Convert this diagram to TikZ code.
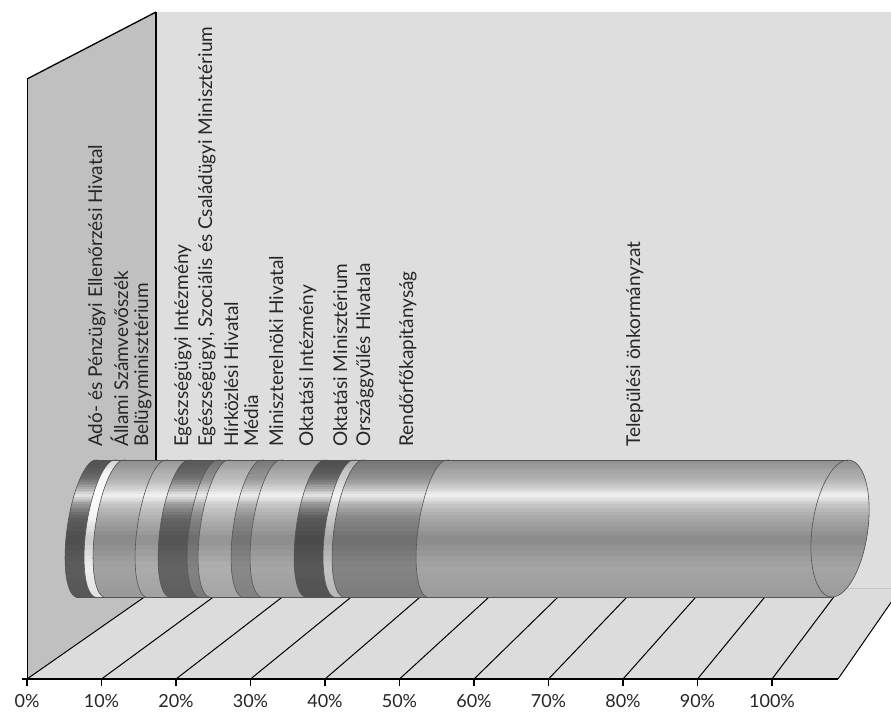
\documentclass[tikz,border=0pt]{standalone}
\usepackage{fontspec}
\setmainfont{Lato}
\definecolor{backwall}{HTML}{DEDEDE}
\definecolor{floorc}{HTML}{DCDCDC}
\definecolor{leftwall}{HTML}{C0C0C0}
\definecolor{s1}{HTML}{5E5E5E}
\definecolor{s2}{HTML}{F4F4F4}
\definecolor{s3}{HTML}{A6A6A6}
\definecolor{s4}{HTML}{B0B0B0}
\definecolor{s5}{HTML}{666666}
\definecolor{s6}{HTML}{858585}
\definecolor{s7}{HTML}{B3B3B3}
\definecolor{s8}{HTML}{8C8C8C}
\definecolor{s9}{HTML}{A9A9A9}
\definecolor{s10}{HTML}{5A5A5A}
\definecolor{s11}{HTML}{C8C8C8}
\definecolor{s12}{HTML}{878787}
\definecolor{s13}{HTML}{A8A8A8}
\def\cy{528.5}\def\uh{68.5}\def\us{11}\def\vw{19}\def\vh{6}\def\kk{0.5523}
\def\ytop{460}\def\ybot{597}
% horizontal bands that imitate the cylinder's shading, in colour "base"
\newcommand\cylfill[2]{%
  \foreach \fa/\fb/\va/\vb in {0/.04/-14/-10,.04/.13/-10/8,.13/.2/8/42,.2/.26/42/86,
      .26/.32/86/36,.32/.42/36/0,.42/.58/0/-18,.58/.78/-18/-2,.78/1/-2/-8}{%
    \foreach \k in {0,...,4}{%
      \pgfmathsetmacro\ya{460+137*(\fa+(\fb-\fa)*\k/5)}%
      \pgfmathsetmacro\yb{460+137*(\fa+(\fb-\fa)*(\k+1)/5)+0.7}%
      \pgfmathsetmacro\vv{\va+(\vb-\va)*(\k+0.5)/5}%
      \ifdim\vv pt<0pt
        \pgfmathsetmacro\mm{100+\vv}\colorlet{stripc}{base!\mm!black}%
      \else
        \pgfmathsetmacro\mm{100-\vv}\colorlet{stripc}{base!\mm!white}%
      \fi
      \fill[stripc] (#1,\ya) rectangle (#2,\yb);
    }}}
\newcommand\cylseg[3]{%
  \colorlet{base}{#3}%
  \begin{scope}
  \clip (#1+\us,\ytop) -- (#2+\us,\ytop)
    .. controls (#2+\us-\kk*\vw,\ytop-\kk*\vh) and (#2-\vw+\kk*\us,\cy-\vh-\kk*\uh) .. (#2-\vw,\cy-\vh)
    .. controls (#2-\vw-\kk*\us,\cy-\vh+\kk*\uh) and (#2-\us-\kk*\vw,\ybot-\kk*\vh) .. (#2-\us,\ybot)
    -- (#1-\us,\ybot)
    .. controls (#1-\us-\kk*\vw,\ybot-\kk*\vh) and (#1-\vw-\kk*\us,\cy-\vh+\kk*\uh) .. (#1-\vw,\cy-\vh)
    .. controls (#1-\vw+\kk*\us,\cy-\vh-\kk*\uh) and (#1+\us-\kk*\vw,\ytop-\kk*\vh) .. (#1+\us,\ytop)
    -- cycle;
  \cylfill{#1-40}{#2+40}
  \end{scope}}
\newcommand\bnd[1]{%
  \draw[edge] (#1+\us,\ytop)
    .. controls (#1+\us-\kk*\vw,\ytop-\kk*\vh) and (#1-\vw+\kk*\us,\cy-\vh-\kk*\uh) .. (#1-\vw,\cy-\vh)
    .. controls (#1-\vw-\kk*\us,\cy-\vh+\kk*\uh) and (#1-\us-\kk*\vw,\ybot-\kk*\vh) .. (#1-\us,\ybot);}
\begin{document}
\begin{tikzpicture}[x=1pt,y=-1pt,line join=round,
  edge/.style={draw=black!68,line width=0.6pt},
  gridln/.style={line width=1pt,black},
  lab/.style={rotate=90,anchor=base west,inner sep=0pt,font=\fontsize{19}{22}\selectfont,text=black!85},
  ticklab/.style={anchor=base,inner sep=0pt,font=\fontsize{18}{21}\selectfont,text=black!85}]
\useasboundingbox (0,0) rectangle (891,712);
\fill[white] (0,0) rectangle (891,712);
\clip (0,0) rectangle (891,712);
% back wall
\fill[backwall] (156,12) rectangle (891,588);
% floor
\fill[floorc] (27,679) -- (838,679) -- (901,588) -- (156,588) -- cycle;
\draw[black!22,line width=0.8pt] (156,588) -- (901,588);
% left wall
\fill[leftwall] (27,79) -- (156,12) -- (156,588) -- (27,679) -- cycle;
\draw[line width=1.3pt] (27,79) -- (156,12);
\draw[line width=1pt] (27,79) -- (27,679);
\draw[line width=1.3pt] (156,12) -- (156,588);
% grid lines, ticks and tick labels
\foreach \i in {0,...,10} {
  \pgfmathsetmacro\xf{27+74.5*\i}
  \pgfmathsetmacro\xb{157.3+68.32*\i}
  \pgfmathtruncatemacro\pc{10*\i}
  \draw[gridln] (\xf,679) -- (\xb,588);
  \draw[line width=1.3pt] (\xf,679) -- (\xf,686);
  \node[ticklab] (t\i) at (\xf,707) {\pc\%};
}
\draw[line width=1pt] (838,679) -- (901,588);
\draw[line width=1.6pt] (22,679) -- (838,679);
% cylinder segments
\cylseg{87}{106}{s1}
\cylseg{106}{115}{s2}
\cylseg{115}{157}{s3}
\cylseg{157}{180}{s4}
\cylseg{180}{209}{s5}
\cylseg{209}{220}{s6}
\cylseg{220}{253}{s7}
\cylseg{253}{272}{s8}
\cylseg{272}{316}{s9}
\cylseg{316}{345}{s10}
\cylseg{345}{354}{s11}
\cylseg{354}{438}{s12}
\colorlet{base}{s13}
\begin{scope}
\clip (438+\us,\ytop) -- (848,460)
  .. controls (863.46,460) and (872.42,490.67) .. (868,528.5)
  .. controls (863.58,566.33) and (847.46,597) .. (832,597)
  -- (438-\us,\ybot)
  .. controls (438-\us-\kk*\vw,\ybot-\kk*\vh) and (438-\vw-\kk*\us,\cy-\vh+\kk*\uh) .. (438-\vw,\cy-\vh)
  .. controls (438-\vw+\kk*\us,\cy-\vh-\kk*\uh) and (438+\us-\kk*\vw,\ytop-\kk*\vh) .. (438+\us,\ytop)
  -- cycle;
\cylfill{400}{880}
\end{scope}
% end cap
\begin{scope}
\clip (848,460)
  .. controls (863.46,460) and (872.42,490.67) .. (868,528.5)
  .. controls (863.58,566.33) and (847.46,597) .. (832,597)
  .. controls (816.54,597) and (807.58,566.33) .. (812,528.5)
  .. controls (816.42,490.67) and (832.54,460) .. (848,460) -- cycle;
\cylfill{800}{880}
\end{scope}
\draw[edge] (848,460)
  .. controls (863.46,460) and (872.42,490.67) .. (868,528.5)
  .. controls (863.58,566.33) and (847.46,597) .. (832,597)
  .. controls (816.54,597) and (807.58,566.33) .. (812,528.5)
  .. controls (816.42,490.67) and (832.54,460) .. (848,460) -- cycle;
% outlines
\draw[edge] (87+\us,\ytop) -- (848,460);
\draw[edge] (87-\us,\ybot) -- (832,597);
\foreach \b in {87,106,115,157,180,209,220,253,272,316,345,354,438} {\bnd{\b}}
% category labels
\node[lab] (l1) at (102,447) {Adó- és Pénzügyi Ellenőrzési Hivatal};
\node[lab] (l2) at (128,447) {Állami Számvevőszék};
\node[lab] (l3) at (148,447) {Belügyminisztérium};
\node[lab] (l4) at (188,447) {Egészségügyi Intézmény};
\node[lab] (l5) at (212,447) {Egészségügyi, Szociális és Családügyi Minisztérium};
\node[lab] (l6) at (238,447) {Hírközlési Hivatal};
\node[lab] (l7) at (258,447) {Média};
\node[lab] (l8) at (283,447) {Miniszterelnöki Hivatal};
\node[lab] (l9) at (313,447) {Oktatási Intézmény};
\node[lab] (l10) at (347,447) {Oktatási Minisztérium};
\node[lab] (l11) at (370,447) {Országgyűlés Hivatala};
\node[lab] (l12) at (413,447) {Rendőrfőkapitányság};
\node[lab] (l13) at (640,447) {Települési önkormányzat};
\end{tikzpicture}
\end{document}
